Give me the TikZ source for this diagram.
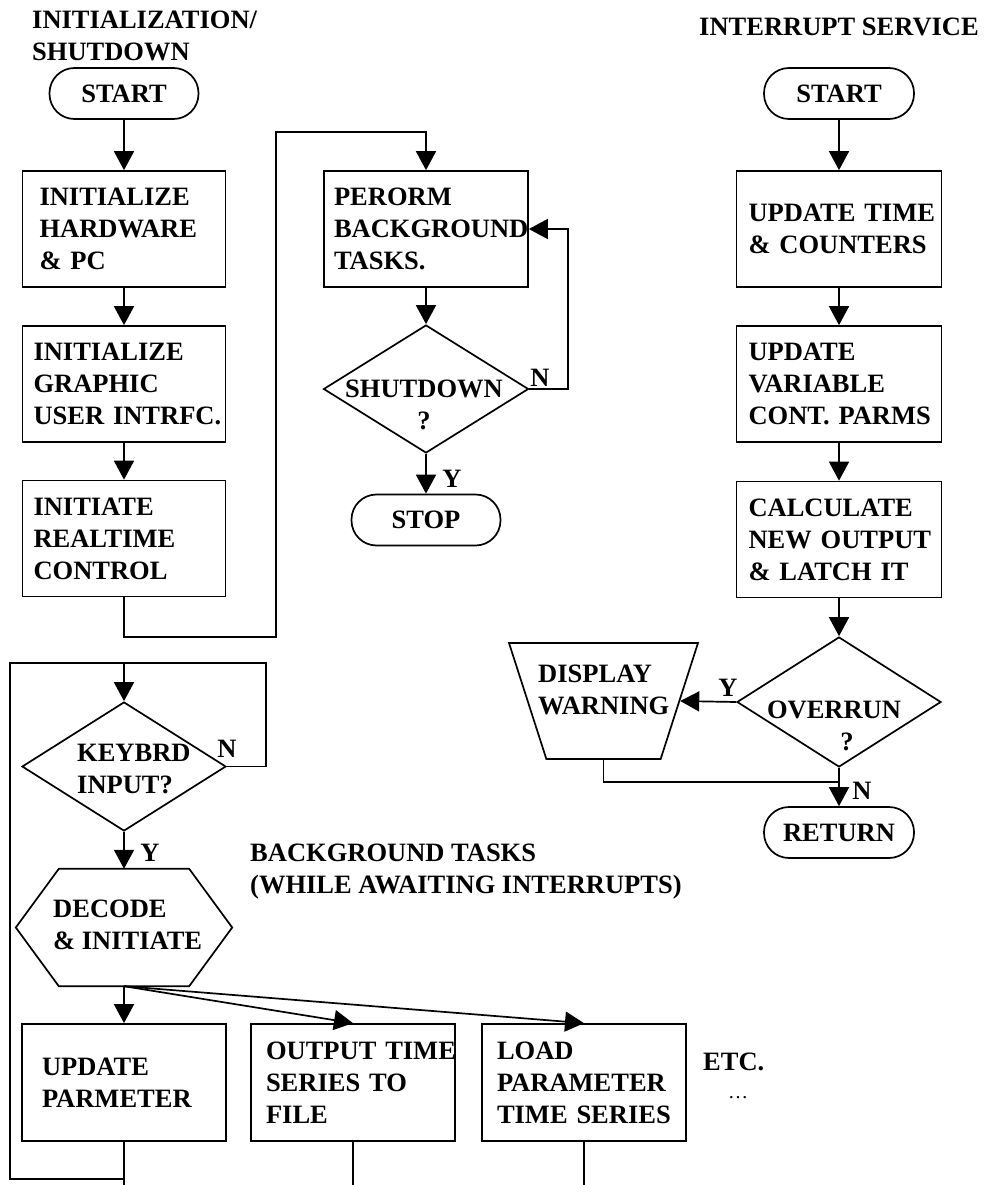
\documentclass[tikz,border=0pt]{standalone}
\usepackage{fontspec}
\setmainfont{Liberation Serif}
\usetikzlibrary{shapes.geometric,arrows.meta}
% box labels keep their words whole
\hyphenpenalty=10000
\exhyphenpenalty=10000

\begin{document}
\begin{tikzpicture}[x=1pt,y=1pt,
  every node/.style={font=\bfseries\fontsize{26.5}{32}\selectfont},
  wire/.style={line width=1.7pt},
  flow/.style={wire,-{Triangle[length=19pt,width=20pt]}},
  procbox/.style={draw,wire,rectangle,minimum height=116pt,align=left,inner ysep=0pt},
  term/.style={draw,wire,rectangle,rounded corners=25pt,minimum width=149pt,minimum height=51pt,inner sep=0pt},
  decis/.style={draw,wire,diamond,inner sep=0pt},
  freetext/.style={inner sep=0pt,align=left,anchor=west},
  tag/.style={inner sep=0pt}]

\useasboundingbox (0,0) rectangle (992,-1185);

% headings
\node[freetext] (tInit) at (32,-36) {INITIALIZATION/\\SHUTDOWN};
\node[freetext] (tIsr) at (699,-27) {INTERRUPT SERVICE};
\node[freetext] (tBg) at (250,-871.5) {BACKGROUND TASKS\\(WHILE AWAITING INTERRUPTS)};

% initialization / shutdown column
\node[term] (sL) at (124,-93.5) {START};
\node[procbox,minimum width=203pt,text width=169pt,inner xsep=17pt] (b1) at (124,-229) {INITIALIZE\\HARDWARE\\\&~PC};
\node[procbox,minimum width=203pt,text width=181pt,inner xsep=11pt] (b2) at (124,-384) {INITIALIZE\\GRAPHIC\\USER~INTRFC.};
\node[procbox,minimum width=203pt,text width=181pt,inner xsep=11pt] (b3) at (124,-538.5) {INITIATE\\REALTIME\\CONTROL};

\node[procbox,minimum width=204pt,text width=184pt,inner xsep=10pt] (pb) at (426,-229) {PERORM\\BACKGROUND\\TASKS.};
\node[decis,minimum width=205pt,minimum height=128pt] (sd) at (426,-389) {};
\node[tag,align=center] (sdT) at (424,-405) {SHUTDOWN\\?};
\node[term] (stop) at (426,-520) {STOP};

% interrupt service column
\node[term,minimum width=150pt] (sR) at (839,-93.5) {START};
\node[procbox,minimum width=205pt,text width=181pt,inner xsep=12pt] (r1) at (839,-229) {UPDATE~TIME\\\&~COUNTERS};
\node[procbox,minimum width=205pt,text width=181pt,inner xsep=12pt] (r2) at (839,-384) {UPDATE\\VARIABLE\\CONT.~PARMS};
\node[procbox,minimum width=205pt,text width=181pt,inner xsep=12pt] (r3) at (839,-539.5) {CALCULATE\\NEW~OUTPUT\\\&~LATCH~IT};
\node[decis,minimum width=204pt,minimum height=130pt] (ov) at (839,-702) {};
\node[tag,align=center] (ovT) at (834,-725.5) {OVERRUN\\\hspace*{26pt}?};
\node[draw,wire,trapezium,trapezium angle=71.9,shape border rotate=180,trapezium stretches=true,
      minimum width=189pt,minimum height=116pt,inner sep=1pt] (tr) at (603.5,-701) {};
\node[freetext] (trT) at (538,-689.5) {DISPLAY\\WARNING};
\node[term,minimum width=150pt] (ret) at (839,-832.5) {RETURN};

% background tasks
\node[decis,minimum width=204pt,minimum height=129pt] (kb) at (124,-766.5) {};
\node[freetext] (kbT) at (77,-769) {KEYBRD\\INPUT?};
\node[rectangle,minimum width=216pt,minimum height=117pt,inner sep=0pt] (dec) at (124,-927.5) {};
\draw[wire] (dec.west) -- ([xshift=43pt]dec.north west) -- ([xshift=-43pt]dec.north east)
  -- (dec.east) -- ([xshift=-43pt]dec.south east) -- ([xshift=43pt]dec.south west) -- cycle;
\node[freetext] (decT) at (53,-925) {DECODE\\\&~INITIATE};
\node[procbox,minimum width=204pt,minimum height=117pt,text width=164pt,inner xsep=20pt] (up) at (124,-1082.5) {UPDATE\\PARMETER};
\node[procbox,minimum width=204pt,minimum height=117pt,text width=174pt,inner xsep=15pt] (ot) at (353,-1082.5) {OUTPUT~TIME\\SERIES~TO\\FILE};
\node[procbox,minimum width=204pt,minimum height=117pt,text width=174pt,inner xsep=15pt] (ld) at (584,-1082.5) {LOAD\\PARAMETER\\TIME~SERIES};
\node[freetext] (etc) at (703,-1062) {ETC.};
\node[tag,font=\normalfont\fontsize{20}{22}\selectfont] (dots) at (738,-1098) {…};

% branch labels
\node[tag] (nSd) at (540,-378) {N};
\node[tag] (ySd) at (452,-479) {Y};
\node[tag] (yOv) at (728,-688) {Y};
\node[tag] (nOv) at (862,-791) {N};
\node[tag] (nKb) at (227,-749) {N};
\node[tag] (yKb) at (150,-853) {Y};

% routing points
\coordinate (c1) at (124,-637);
\coordinate (c2) at (276,-637);
\coordinate (c3) at (276,-132);
\coordinate (c4) at (426,-132);
\coordinate (c5) at (568,-389);
\coordinate (c6) at (568,-229);
\coordinate (j1) at (603.5,-782);
\coordinate (j2) at (839,-782);
\coordinate (k0) at (124,-663);
\coordinate (k1) at (266,-766.5);
\coordinate (k2) at (266,-663);
\coordinate (L1) at (124,-1179);
\coordinate (L2) at (10,-1179);
\coordinate (L3) at (10,-663);
\coordinate (e1) at (124,-1185);
\coordinate (e2) at (353,-1185);
\coordinate (e3) at (584,-1185);

% initialization / shutdown flow
\draw[flow] (sL) -- (b1);
\draw[flow] (b1) -- (b2);
\draw[flow] (b2) -- (b3);
\draw[flow] (b3.south) -- (c1) -- (c2) -- (c3) -- (c4) -- (pb.north);
\draw[flow] (pb) -- (sd);
\draw[flow] (sd.east) -- (c5) -- (c6) -- (pb.east);
\draw[flow] (sd) -- (stop);

% interrupt service flow
\draw[flow] (sR) -- (r1);
\draw[flow] (r1) -- (r2);
\draw[flow] (r2) -- (r3);
\draw[flow] (r3) -- (ov);
\draw[flow] (ov.west) -- (tr.east);
\draw[wire] (tr.south) -- (j1) -- (j2);
\draw[flow] (ov) -- (ret);

% background loop
\draw[flow] (kb.east) -- (k1) -- (k2) -- (k0) -- (kb.north);
\draw[flow] (kb) -- (dec);
\draw[flow] (dec.south) -- (up.north);
\draw[flow] (dec.south) -- (ot.north);
\draw[flow] (dec.south) -- (ld.north);
\draw[wire] (up.south) -- (e1);
\draw[wire] (L1) -- (L2) -- (L3) -- (k0);
\draw[wire] (ot.south) -- (e2);
\draw[wire] (ld.south) -- (e3);
\end{tikzpicture}
\end{document}
